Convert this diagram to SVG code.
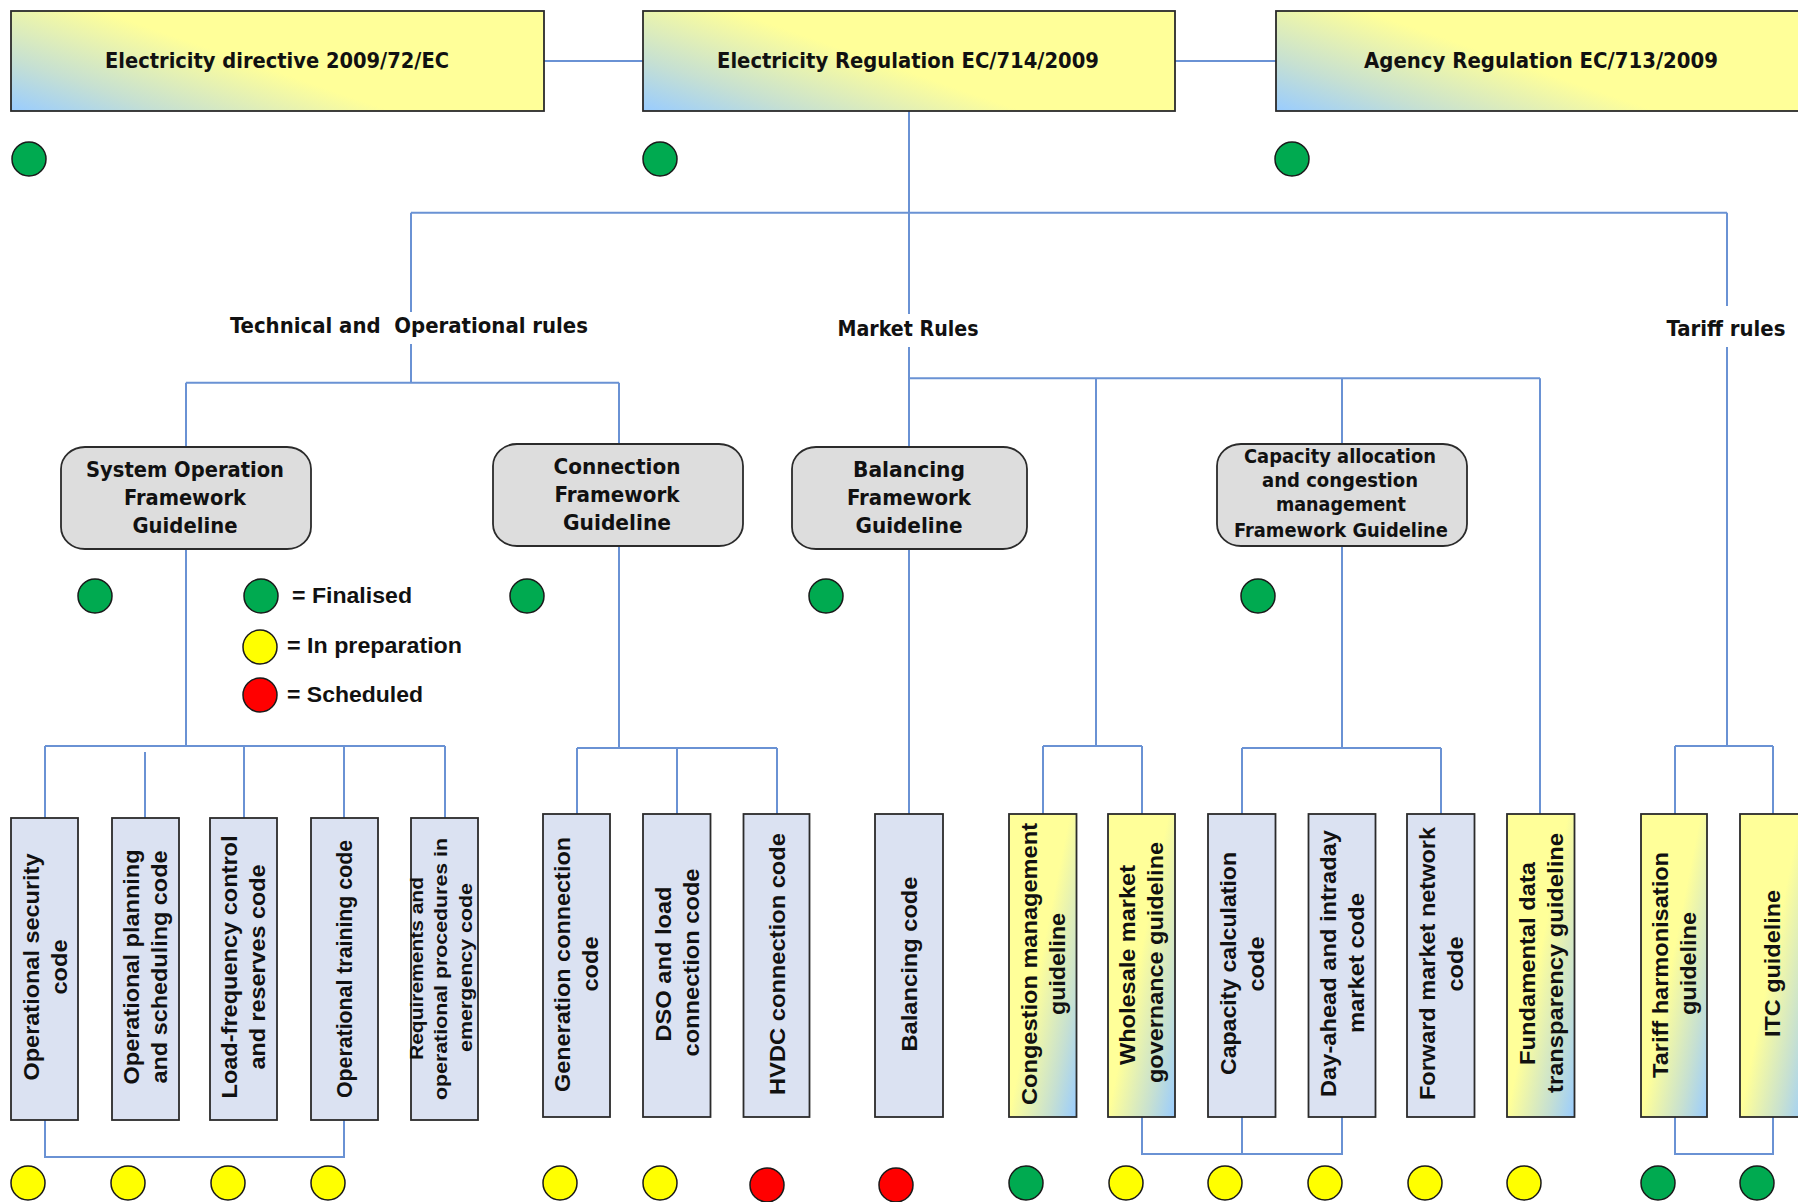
<svg xmlns="http://www.w3.org/2000/svg" width="1798" height="1202" viewBox="0 0 1798 1202">
<defs>
<linearGradient id="gH" x1="0" y1="1" x2="0.55" y2="0.7">
<stop offset="0" stop-color="#99CCFF"/>
<stop offset="0.4" stop-color="#C6E0D2"/>
<stop offset="1" stop-color="#FFFF99"/>
</linearGradient>
<linearGradient id="gV" x1="1" y1="1" x2="0.45" y2="0.5">
<stop offset="0" stop-color="#99CCFF"/>
<stop offset="0.4" stop-color="#C6E0D2"/>
<stop offset="1" stop-color="#FFFF99"/>
</linearGradient>
<style>
.con{fill:none;stroke:#6A92D4;stroke-width:2}
.top{fill:url(#gH);stroke:#2b2b2b;stroke-width:1.8}
.fg{fill:#DDDDDD;stroke:#2b2b2b;stroke-width:1.8}
.code{fill:#DBE2F2;stroke:#2b2b2b;stroke-width:1.8}
.gl{fill:url(#gV);stroke:#2b2b2b;stroke-width:1.8}
.nt{font-family:"Liberation Sans Narrow","Arial Narrow","DejaVu Sans Condensed","Liberation Sans",sans-serif;font-weight:bold;font-size:22px;fill:#111;text-anchor:middle}
.st{font-size:20px}
.vt{font-family:"Liberation Sans",Arial,sans-serif;font-weight:bold;font-size:22px;fill:#111;text-anchor:middle}
.vs{font-size:19px}
.lg{font-family:"Liberation Sans",Arial,sans-serif;font-weight:bold;font-size:22px;fill:#111}
.g{fill:#00AA50;stroke:#1a1a1a;stroke-width:1.5}
.y{fill:#FFFF00;stroke:#1a1a1a;stroke-width:1.5}
.r{fill:#FF0000;stroke:#1a1a1a;stroke-width:1.5}
</style>
</defs>
<rect width="1798" height="1202" fill="#FFFFFF"/>

<g id="connectors">
<path class="con" d="M544 61H643M1175 61H1276"/>
<path class="con" d="M909 111V314M411 212.7H1727M411 212.7V312M411 344V382.7M186 382.7H619M186 382.7V447M619 382.7V444"/>
<path class="con" d="M909 347V447M909 378.3H1540M1096 378.3V746M1342 378.3V444M1540 378.3V814"/>
<path class="con" d="M1727 212.7V306M1727 347V746"/>
<path class="con" d="M186 549V746M45 746H445M45 746V818M145 752V818M244 746V818M344 746V818M445 746V818M45 1120V1157H344V1120"/>
<path class="con" d="M619 546V748M577 748H777M577 748V814M677 748V814M777 748V814"/>
<path class="con" d="M909 549V814"/>
<path class="con" d="M1043 746H1142M1043 746V814M1142 746V814"/>
<path class="con" d="M1342 546V748M1242 748H1441M1242 748V814M1441 748V814M1142 1117V1154H1342V1117M1242 1117V1154"/>
<path class="con" d="M1675 746H1773M1675 746V814M1773 746V814M1675 1117V1154H1773V1117"/>
</g>

<g id="n-directive">
<rect class="top" x="11" y="11" width="533" height="100"/>
<text class="nt" x="277" y="68" textLength="344" lengthAdjust="spacingAndGlyphs">Electricity directive 2009/72/EC</text>
<circle class="g" cx="29" cy="159" r="17"/>
</g>
<g id="n-regulation">
<rect class="top" x="643" y="11" width="532" height="100"/>
<text class="nt" x="908" y="68" textLength="382" lengthAdjust="spacingAndGlyphs">Electricity Regulation EC/714/2009</text>
<circle class="g" cx="660" cy="159" r="17"/>
</g>
<g id="n-agency">
<rect class="top" x="1276" y="11" width="532" height="100"/>
<text class="nt" x="1541" y="68" textLength="354" lengthAdjust="spacingAndGlyphs">Agency Regulation EC/713/2009</text>
<circle class="g" cx="1292" cy="159" r="17"/>
</g>

<g id="labels">
<text class="nt" x="409" y="333" textLength="358" lengthAdjust="spacingAndGlyphs" xml:space="preserve">Technical and  Operational rules</text>
<text class="nt" x="908" y="336" textLength="141" lengthAdjust="spacingAndGlyphs">Market Rules</text>
<text class="nt" x="1726" y="336" textLength="119" lengthAdjust="spacingAndGlyphs">Tariff rules</text>
</g>

<g id="n-sofg">
<rect class="fg" x="61" y="447" width="250" height="102" rx="24" ry="22"/>
<text class="nt" x="185" y="477" textLength="198" lengthAdjust="spacingAndGlyphs">System Operation</text>
<text class="nt" x="185" y="505" textLength="122" lengthAdjust="spacingAndGlyphs">Framework</text>
<text class="nt" x="185" y="533" textLength="105" lengthAdjust="spacingAndGlyphs">Guideline</text>
<circle class="g" cx="95" cy="596" r="17"/>
</g>
<g id="n-connfg">
<rect class="fg" x="493" y="444" width="250" height="102" rx="24" ry="22"/>
<text class="nt" x="617" y="474" textLength="127" lengthAdjust="spacingAndGlyphs">Connection</text>
<text class="nt" x="617" y="502" textLength="125" lengthAdjust="spacingAndGlyphs">Framework</text>
<text class="nt" x="617" y="530" textLength="108" lengthAdjust="spacingAndGlyphs">Guideline</text>
<circle class="g" cx="527" cy="596" r="17"/>
</g>
<g id="n-balfg">
<rect class="fg" x="792" y="447" width="235" height="102" rx="24" ry="22"/>
<text class="nt" x="909" y="477" textLength="112" lengthAdjust="spacingAndGlyphs">Balancing</text>
<text class="nt" x="909" y="505" textLength="124" lengthAdjust="spacingAndGlyphs">Framework</text>
<text class="nt" x="909" y="533" textLength="107" lengthAdjust="spacingAndGlyphs">Guideline</text>
<circle class="g" cx="826" cy="596" r="17"/>
</g>
<g id="n-cacmfg">
<rect class="fg" x="1217" y="444" width="250" height="102" rx="24" ry="22"/>
<text class="nt st" x="1340" y="463" textLength="192" lengthAdjust="spacingAndGlyphs">Capacity allocation</text>
<text class="nt st" x="1340" y="487" textLength="156" lengthAdjust="spacingAndGlyphs">and congestion</text>
<text class="nt st" x="1341" y="511" textLength="130" lengthAdjust="spacingAndGlyphs">management</text>
<text class="nt st" x="1341" y="537" textLength="214" lengthAdjust="spacingAndGlyphs">Framework Guideline</text>
<circle class="g" cx="1258" cy="596" r="17"/>
</g>

<g id="legend">
<circle class="g" cx="261" cy="596" r="17"/>
<text class="lg" x="292" y="603" textLength="120" lengthAdjust="spacingAndGlyphs">= Finalised</text>
<circle class="y" cx="260" cy="647" r="17"/>
<text class="lg" x="287" y="653" textLength="175" lengthAdjust="spacingAndGlyphs">= In preparation</text>
<circle class="r" cx="260" cy="695" r="17"/>
<text class="lg" x="287" y="702" textLength="136" lengthAdjust="spacingAndGlyphs">= Scheduled</text>
</g>

<g id="n-opsec">
<rect class="code" x="11" y="818" width="67" height="302"/>
<g transform="translate(45,969) rotate(-90)">
<text class="vt" x="2" y="-6.5" textLength="227" lengthAdjust="spacingAndGlyphs">Operational security</text>
<text class="vt" x="2" y="21.5" textLength="55" lengthAdjust="spacingAndGlyphs">code</text>
</g>
<circle class="y" cx="28" cy="1183" r="17"/>
</g>
<g id="n-opplan">
<rect class="code" x="112" y="818" width="67" height="302"/>
<g transform="translate(145.5,969) rotate(-90)">
<text class="vt" x="2" y="-6.5" textLength="235" lengthAdjust="spacingAndGlyphs">Operational planning</text>
<text class="vt" x="2" y="21.5" textLength="233" lengthAdjust="spacingAndGlyphs">and scheduling code</text>
</g>
<circle class="y" cx="128" cy="1183" r="17"/>
</g>
<g id="n-lfc">
<rect class="code" x="210" y="818" width="67" height="302"/>
<g transform="translate(243.5,969) rotate(-90)">
<text class="vt" x="2" y="-6.5" textLength="263" lengthAdjust="spacingAndGlyphs">Load-frequency control</text>
<text class="vt" x="2" y="21.5" textLength="205" lengthAdjust="spacingAndGlyphs">and reserves code</text>
</g>
<circle class="y" cx="228" cy="1183" r="17"/>
</g>
<g id="n-optrain">
<rect class="code" x="311" y="818" width="67" height="302"/>
<g transform="translate(344.5,969) rotate(-90)">
<text class="vt" x="0" y="7" textLength="258" lengthAdjust="spacingAndGlyphs">Operational training code</text>
</g>
<circle class="y" cx="328" cy="1183" r="17"/>
</g>
<g id="n-emerg">
<rect class="code" x="411" y="818" width="67" height="302"/>
<g transform="translate(444.5,969) rotate(-90)">
<text class="vt vs" x="0.5" y="-22" textLength="183" lengthAdjust="spacingAndGlyphs">Requirements and</text>
<text class="vt vs" x="0" y="2.5" textLength="262" lengthAdjust="spacingAndGlyphs">operational procedures in</text>
<text class="vt vs" x="1.5" y="27" textLength="169" lengthAdjust="spacingAndGlyphs">emergency code</text>
</g>
</g>

<g id="n-gen">
<rect class="code" x="543" y="814" width="67" height="303"/>
<g transform="translate(576.5,965.5) rotate(-90)">
<text class="vt" x="1" y="-6.5" textLength="255" lengthAdjust="spacingAndGlyphs">Generation connection</text>
<text class="vt" x="1.5" y="21.5" textLength="55" lengthAdjust="spacingAndGlyphs">code</text>
</g>
<circle class="y" cx="560" cy="1183" r="17"/>
</g>
<g id="n-dso">
<rect class="code" x="643" y="814" width="67.5" height="303"/>
<g transform="translate(677,965.5) rotate(-90)">
<text class="vt" x="1.5" y="-6.5" textLength="155" lengthAdjust="spacingAndGlyphs">DSO and load</text>
<text class="vt" x="3" y="21.5" textLength="188" lengthAdjust="spacingAndGlyphs">connection code</text>
</g>
<circle class="y" cx="660" cy="1183" r="17"/>
</g>
<g id="n-hvdc">
<rect class="code" x="743.5" y="814" width="66" height="303"/>
<g transform="translate(776.5,965.5) rotate(-90)">
<text class="vt" x="1.5" y="8" textLength="262" lengthAdjust="spacingAndGlyphs">HVDC connection code</text>
</g>
<circle class="r" cx="767" cy="1185" r="17"/>
</g>
<g id="n-bal">
<rect class="code" x="875" y="814" width="68" height="303"/>
<g transform="translate(909,965.5) rotate(-90)">
<text class="vt" x="1.5" y="8" textLength="175" lengthAdjust="spacingAndGlyphs">Balancing code</text>
</g>
<circle class="r" cx="896" cy="1185" r="17"/>
</g>

<g id="n-congestion">
<rect class="gl" x="1009" y="814" width="67.5" height="303"/>
<g transform="translate(1043,965.5) rotate(-90)">
<text class="vt" x="1.5" y="-6.5" textLength="282" lengthAdjust="spacingAndGlyphs">Congestion management</text>
<text class="vt" x="1.5" y="21.5" textLength="102" lengthAdjust="spacingAndGlyphs">guideline</text>
</g>
<circle class="g" cx="1026" cy="1183" r="17"/>
</g>
<g id="n-wholesale">
<rect class="gl" x="1108" y="814" width="67" height="303"/>
<g transform="translate(1141.5,965.5) rotate(-90)">
<text class="vt" x="0.5" y="-6.5" textLength="200" lengthAdjust="spacingAndGlyphs">Wholesale market</text>
<text class="vt" x="3" y="21.5" textLength="241" lengthAdjust="spacingAndGlyphs">governance guideline</text>
</g>
<circle class="y" cx="1126" cy="1183" r="17"/>
</g>
<g id="n-capcalc">
<rect class="code" x="1208" y="814" width="67.5" height="303"/>
<g transform="translate(1242,965.5) rotate(-90)">
<text class="vt" x="2" y="-6.5" textLength="223" lengthAdjust="spacingAndGlyphs">Capacity calculation</text>
<text class="vt" x="1.5" y="21.5" textLength="55" lengthAdjust="spacingAndGlyphs">code</text>
</g>
<circle class="y" cx="1225" cy="1183" r="17"/>
</g>
<g id="n-dayahead">
<rect class="code" x="1308.5" y="814" width="67" height="303"/>
<g transform="translate(1342,965.5) rotate(-90)">
<text class="vt" x="2" y="-6.5" textLength="267" lengthAdjust="spacingAndGlyphs">Day-ahead and intraday</text>
<text class="vt" x="2.5" y="21.5" textLength="140" lengthAdjust="spacingAndGlyphs">market code</text>
</g>
<circle class="y" cx="1325" cy="1183" r="17"/>
</g>
<g id="n-forward">
<rect class="code" x="1407" y="814" width="67.5" height="303"/>
<g transform="translate(1441,965.5) rotate(-90)">
<text class="vt" x="2" y="-6.5" textLength="273" lengthAdjust="spacingAndGlyphs">Forward market network</text>
<text class="vt" x="1.5" y="21.5" textLength="55" lengthAdjust="spacingAndGlyphs">code</text>
</g>
<circle class="y" cx="1425" cy="1183" r="17"/>
</g>
<g id="n-fundamental">
<rect class="gl" x="1507" y="814" width="67.5" height="303"/>
<g transform="translate(1541,965.5) rotate(-90)">
<text class="vt" x="2" y="-6.5" textLength="203" lengthAdjust="spacingAndGlyphs">Fundamental data</text>
<text class="vt" x="2.5" y="21.5" textLength="260" lengthAdjust="spacingAndGlyphs">transparency guideline</text>
</g>
<circle class="y" cx="1524" cy="1183" r="17"/>
</g>

<g id="n-tariff">
<rect class="gl" x="1641" y="814" width="66" height="303"/>
<g transform="translate(1674,965.5) rotate(-90)">
<text class="vt" x="0.5" y="-6.5" textLength="226" lengthAdjust="spacingAndGlyphs">Tariff harmonisation</text>
<text class="vt" x="2" y="21.5" textLength="103" lengthAdjust="spacingAndGlyphs">guideline</text>
</g>
<circle class="g" cx="1658" cy="1183" r="17"/>
</g>
<g id="n-itc">
<rect class="gl" x="1740" y="814" width="67" height="303"/>
<g transform="translate(1773,965.5) rotate(-90)">
<text class="vt" x="2" y="7" textLength="147" lengthAdjust="spacingAndGlyphs">ITC guideline</text>
</g>
<circle class="g" cx="1757" cy="1183" r="17"/>
</g>
</svg>
